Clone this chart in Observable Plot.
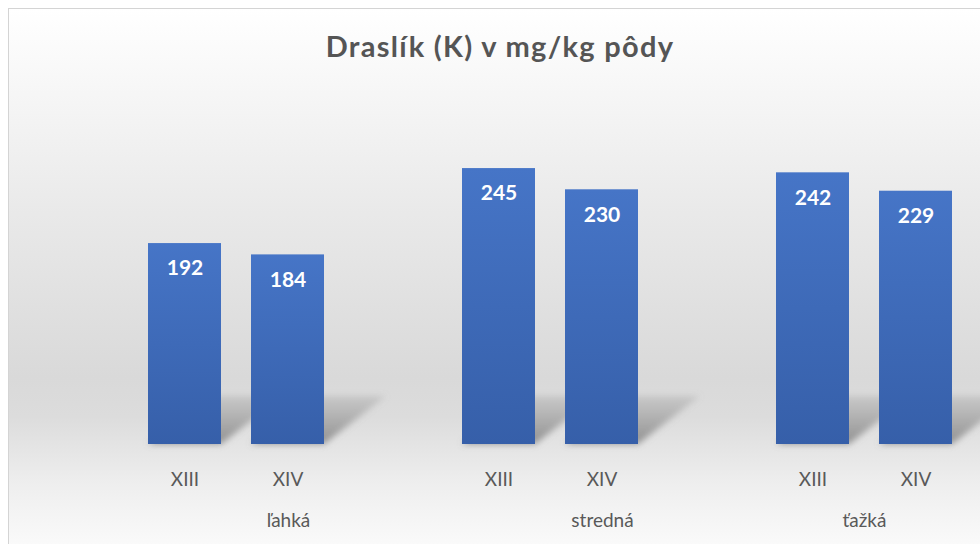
<!DOCTYPE html>
<html>
<head>
<meta charset="utf-8">
<script src="https://cdn.jsdelivr.net/npm/d3@7"></script>
<script src="https://cdn.jsdelivr.net/npm/@observablehq/plot@0.6"></script>
<style>
  html, body { margin: 0; padding: 0; background: #ffffff; overflow: hidden; }
  #wrap { position: relative; width: 980px; height: 544px; overflow: hidden; background: #ffffff; }
  #frame {
    position: absolute; left: 8px; top: 8px; width: 990px; height: 560px;
    border: 1px solid #d4d4d4; box-sizing: border-box;
    background: linear-gradient(to bottom, #ffffff 0%, #f8f8f8 12%, #eaeaea 35%, #d9d9d9 66%, #dcdcdc 73%, #eeeeee 85%, #fcfcfc 98%);
  }
  #title {
    position: absolute; left: 0; width: 1000px; top: 28px; text-align: center;
    font-family: Lato, "Open Sans", sans-serif; font-weight: bold; font-size: 29px;
    letter-spacing: 1.3px; color: #555555; line-height: 36px;
  }
  #chart { position: absolute; left: 0; top: 0; width: 1040px; height: 544px; }
  #chart svg { max-width: none !important; }
</style>
</head>
<body>
<div id="wrap">
  <div id="frame"></div>
  <div id="title"></div>
  <div id="chart"></div>
</div>
<script>
const title = "Draslík (K) v mg/kg pôdy";
const groups = ["ľahká", "stredná", "ťažká"];
const years = ["XIII", "XIV"];
const valuesXIII = [192, 245, 242];
const valuesXIV = [184, 230, 229];
const yMin = 50;
const yMax = 250;

document.getElementById("title").textContent = title;

const data = groups.flatMap((g, i) => [
  {group: g, year: years[0], value: valuesXIII[i]},
  {group: g, year: years[1], value: valuesXIV[i]}
]);

const labelShift = [52, 52, 0];

const chart = Plot.plot({
  width: 1040,
  height: 544,
  marginTop: 161,
  marginBottom: 100,
  marginLeft: 79,
  marginRight: 19,
  style: {background: "transparent", fontFamily: "Lato, 'Open Sans', sans-serif", overflow: "visible", maxWidth: "none"},
  fx: {domain: groups, padding: 0, axis: null, label: null},
  x: {domain: years, paddingInner: 0.288, paddingOuter: 0.654, label: null, axis: null},
  y: {domain: [yMin, yMax], axis: null},
  marks: [
    Plot.barY(data, {fx: "group", x: "year", y1: yMin, y2: "value", fill: "url(#barGrad)"}),
    Plot.text(data, {fx: "group", x: "year", y: "value", text: d => String(d.value), dy: 25,
      fill: "white", fontSize: 21, fontWeight: "bold"}),
    Plot.axisX({tickSize: 0, tickPadding: 27.5, fontSize: 19, color: "#595959", label: null}),
    ...groups.map((g, i) => Plot.text([g], {fx: d => d, text: d => d, frameAnchor: "bottom",
      dy: 82, dx: labelShift[i], fontSize: 19, fill: "#595959"}))
  ]
});

document.getElementById("chart").appendChild(chart);

// gradient + shadow definitions
const svg = d3.select(chart);
const defs = svg.insert("defs", ":first-child");
const grad = defs.append("linearGradient").attr("id", "barGrad")
  .attr("x1", 0).attr("y1", 0).attr("x2", 0).attr("y2", 1);
grad.append("stop").attr("offset", "0%").attr("stop-color", "#4675c7");
grad.append("stop").attr("offset", "100%").attr("stop-color", "#365fa9");
const sgrad = defs.append("linearGradient").attr("id", "shadowGrad")
  .attr("x1", 0).attr("y1", 1).attr("x2", 0).attr("y2", 0);
sgrad.append("stop").attr("offset", "0%").attr("stop-color", "#808080").attr("stop-opacity", 0.85);
sgrad.append("stop").attr("offset", "100%").attr("stop-color", "#909090").attr("stop-opacity", 0.25);
const blur = defs.append("filter").attr("id", "shadowBlur")
  .attr("x", "-20%").attr("y", "-30%").attr("width", "140%").attr("height", "160%");
blur.append("feGaussianBlur").attr("stdDeviation", 3);

// perspective shadows behind each bar, derived from the rendered bar rects
const shadowRise = 48, shadowShift = 62;
svg.selectAll('g[aria-label="bar"] rect').each(function() {
  const r = d3.select(this);
  const x = +r.attr("x"), y = +r.attr("y"), w = +r.attr("width"), h = +r.attr("height");
  const base = y + h;
  const parent = this.parentNode;
  const poly = document.createElementNS("http://www.w3.org/2000/svg", "polygon");
  poly.setAttribute("points", [
    [x, base], [x + w, base], [x + w + shadowShift, base - shadowRise], [x + shadowShift, base - shadowRise]
  ].map(p => p.join(",")).join(" "));
  poly.setAttribute("fill", "url(#shadowGrad)");
  poly.setAttribute("filter", "url(#shadowBlur)");
  parent.insertBefore(poly, parent.firstChild);
});
</script>
</body>
</html>
